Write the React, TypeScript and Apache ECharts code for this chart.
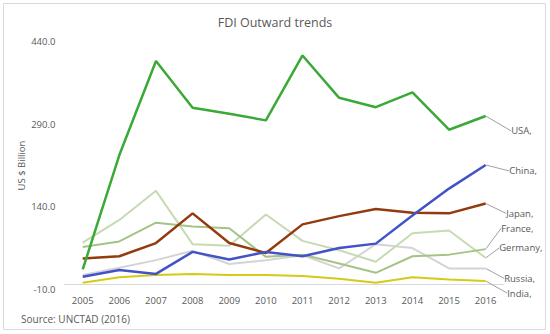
import React, { useEffect, useRef } from "react";
import * as echarts from "echarts";

const years = ["2005", "2006", "2007", "2008", "2009", "2010", "2011", "2012", "2013", "2014", "2015", "2016"];

const usa = [26, 234, 405, 320, 309, 297, 415, 338, 321, 348, 280, 305];
const china = [13, 25, 18, 58, 44, 58, 50, 65, 73, 124, 173, 216];
const japan = [46, 50, 74, 128, 74, 56, 108, 123, 136, 129, 128, 146];
const france = [67, 77, 111, 104, 101, 49, 53, 37, 20, 50, 53, 63];
const germany = [75, 116, 169, 72, 69, 126, 78, 61, 40, 92, 97, 47];
const russia = [16, 29, 43, 60, 36, 43, 52, 28, 72, 65, 28, 28];
const india = [2, 12, 16, 18, 16, 16, 14, 9, 2, 12, 8, 5];

const yTicks = { min: -10, max: 440, interval: 150 };

type S = { name: string; data: number[]; color: string; width: number; dx: number; dy: number; z: number };

const seriesDefs: S[] = [
  { name: "India", data: india, color: "#D6CA17", width: 2, dx: 16, dy: 12, z: 2 },
  { name: "Russia", data: russia, color: "#D4D4D4", width: 2, dx: 13, dy: 10, z: 2 },
  { name: "Germany", data: germany, color: "#C6DBB2", width: 2, dx: 8, dy: -10, z: 2 },
  { name: "France", data: france, color: "#A4C486", width: 2, dx: 10, dy: -21, z: 3 },
  { name: "Japan", data: japan, color: "#933A0E", width: 2.5, dx: 15, dy: 10, z: 4 },
  { name: "China", data: china, color: "#4153C6", width: 2.5, dx: 18, dy: 6, z: 5 },
  { name: "USA", data: usa, color: "#3BA935", width: 2.5, dx: 20, dy: 15, z: 6 },
];

export default function App() {
  const ref = useRef<HTMLDivElement>(null);
  useEffect(() => {
    if (!ref.current) return;
    const chart = echarts.init(ref.current, undefined, { renderer: "svg" });
    const font = "'Open Sans', 'Liberation Sans', sans-serif";
    chart.setOption({
      animation: false,
      backgroundColor: "#ffffff",
      textStyle: { fontFamily: font },
      title: {
        text: "FDI Outward trends",
        left: "center",
        top: 11,
        textStyle: { fontSize: 12.5, fontWeight: "normal", color: "#595959", fontFamily: font },
      },
      grid: { left: 64.4, right: 46, top: 41.7, bottom: 44.7 },
      xAxis: {
        type: "category",
        data: years,
        boundaryGap: true,
        axisLine: { lineStyle: { color: "#D9D9D9" } },
        axisTick: { show: false },
        axisLabel: { color: "#595959", fontSize: 9.5, margin: 6, fontFamily: font },
      },
      yAxis: {
        type: "value",
        min: yTicks.min,
        max: yTicks.max,
        interval: yTicks.interval,
        name: "US $ Billion",
        nameLocation: "middle",
        nameGap: 38,
        nameMoveOverlap: false,
        nameTextStyle: { color: "#595959", fontSize: 9.5, fontFamily: font },
        splitLine: { show: false },
        axisLine: { show: false },
        axisTick: { show: false },
        axisLabel: {
          color: "#595959",
          fontSize: 9.5,
          margin: 9,
          fontFamily: font,
          formatter: (v: number) => v.toFixed(1),
        },
      },
      series: seriesDefs.map((s) => ({
        type: "line",
        name: s.name,
        z: s.z,
        symbol: "circle",
        symbolSize: 1,
        showSymbol: true,
        showAllSymbol: true,
        lineStyle: { color: s.color, width: s.width },
        itemStyle: { color: "rgba(0,0,0,0)" },
        label: { show: false },
        data: s.data.map((v, i) =>
          i === s.data.length - 1
            ? {
                value: v,
                label: {
                  show: true,
                  position: "right",
                  distance: 5,
                  formatter: s.name + ",",
                  color: "#595959",
                  fontSize: 9.5,
                  fontFamily: font,
                },
                labelLine: { show: true, lineStyle: { color: "#A0A0A0", width: 1 } },
              }
            : v
        ),
        labelLayout: { dx: s.dx, dy: s.dy, hideOverlap: false },
        labelLine: { show: true, lineStyle: { color: "#A0A0A0", width: 1 } },
      })),
      graphic: [
        {
          type: "rect",
          shape: { x: 3.5, y: 3.5, width: 542, height: 326 },
          style: { fill: "none", stroke: "#D9D9D9", lineWidth: 1 },
          silent: true,
        },
        {
          type: "text",
          x: 21,
          y: 319,
          style: {
            text: "Source: UNCTAD (2016)",
            fill: "#595959",
            fontSize: 10,
            fontFamily: font,
            verticalAlign: "middle",
          },
        },
      ],
    });
    return () => chart.dispose();
  }, []);
  return (
    <div style={{ position: "fixed", left: 0, top: 0, width: 550, height: 334, background: "#fff" }}>
      <div ref={ref} style={{ width: 550, height: 334 }} />
    </div>
  );
}
